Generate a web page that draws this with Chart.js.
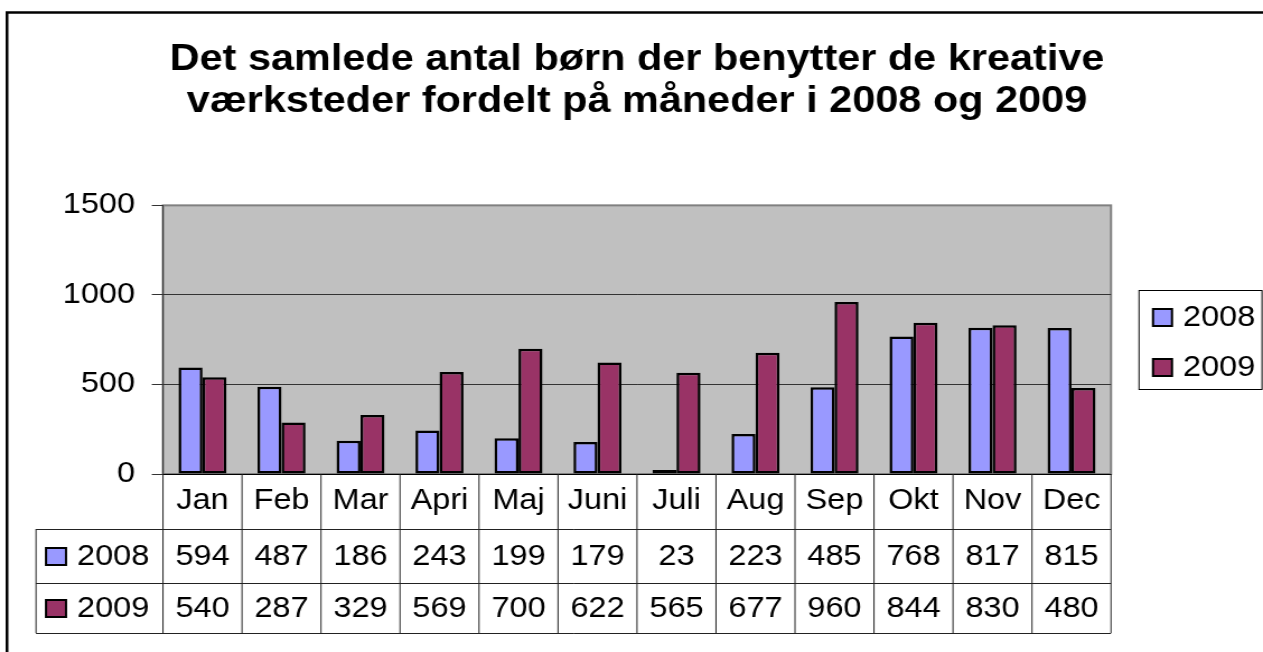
<!DOCTYPE html>
<html>
<head>
<meta charset="utf-8">
<script src="https://cdn.jsdelivr.net/npm/chart.js@4.4.1/dist/chart.umd.min.js"></script>
<style>
  html, body { margin: 0; padding: 0; background: #fff; overflow: hidden; }
</style>
</head>
<body>
<canvas id="chart" width="1128" height="652" style="display:block;width:1263px;height:652px"></canvas>
<script>
// Data
const months = ['Jan', 'Feb', 'Mar', 'Apri', 'Maj', 'Juni', 'Juli', 'Aug', 'Sep', 'Okt', 'Nov', 'Dec'];
const seriesNames = ['2008', '2009'];
const values2008 = [594, 487, 186, 243, 199, 179, 23, 223, 485, 768, 817, 815];
const values2009 = [540, 287, 329, 569, 700, 622, 565, 677, 960, 844, 830, 480];
const yTickValues = [0, 500, 1000, 1500];
const titleLines = [
  'Det samlede antal børn der benytter de kreative',
  'værksteder fordelt på måneder i 2008 og 2009'
];

// the original is a horizontally stretched Excel chart, so draw narrower and let CSS stretch it
const STRETCH = 1263 / 1128;
const sx = v => v / STRETCH;

const FONT = '"Liberation Sans", Arial, sans-serif';
const seriesColors = ['#9999FF', '#993366'];

function swatch(ctx, x, y, w, h, color) {
  ctx.fillStyle = color;
  ctx.fillRect(x, y, w, h);
  ctx.strokeStyle = '#000';
  ctx.lineWidth = 2;
  ctx.strokeRect(x, y, w, h);
}

// grey plot area, data table under the axis, boxed legend and the outer frame
const excelFrame = {
  id: 'excelFrame',
  beforeDraw(chart) {
    const { ctx, chartArea: a } = chart;
    ctx.save();
    ctx.fillStyle = '#fff';
    ctx.fillRect(0, 0, chart.width, chart.height);
    ctx.fillStyle = '#C0C0C0';
    ctx.fillRect(a.left, a.top, a.right - a.left, a.bottom - a.top);
    ctx.strokeStyle = '#808080';
    ctx.lineWidth = 2;
    ctx.strokeRect(a.left, a.top, a.right - a.left, a.bottom - a.top);
    ctx.restore();
  },
  afterDraw(chart) {
    const { ctx, chartArea: a } = chart;
    const x = chart.scales.x;
    const half = (x.getPixelForValue(1) - x.getPixelForValue(0)) / 2;
    const rows = [a.bottom, 529, 583, 633];
    const tableLeft = sx(36);

    ctx.save();
    ctx.strokeStyle = '#222';
    ctx.lineWidth = 1;
    ctx.beginPath();
    for (let r = 1; r < rows.length; r++) {
      ctx.moveTo(tableLeft, rows[r] + 0.5);
      ctx.lineTo(a.right, rows[r] + 0.5);
    }
    ctx.moveTo(tableLeft, rows[1]);
    ctx.lineTo(tableLeft, rows[3]);
    months.forEach((m, i) => {
      const bx = x.getPixelForValue(i) - half;
      ctx.moveTo(bx, a.bottom);
      ctx.lineTo(bx, rows[3]);
    });
    ctx.moveTo(a.right, a.bottom);
    ctx.lineTo(a.right, rows[3]);
    ctx.stroke();

    ctx.font = `29px ${FONT}`;
    ctx.textBaseline = 'middle';
    chart.data.datasets.forEach((ds, d) => {
      const cy = (rows[d + 1] + rows[d + 2]) / 2 + 1;
      ctx.fillStyle = '#000';
      ctx.textAlign = 'center';
      ds.data.forEach((v, i) => ctx.fillText(String(v), x.getPixelForValue(i), cy));
      swatch(ctx, sx(46), cy - 9, sx(20), 17, ds.backgroundColor);
      ctx.fillStyle = '#000';
      ctx.textAlign = 'left';
      ctx.fillText(ds.label, sx(77), cy);
    });

    // legend box
    ctx.strokeStyle = '#000';
    ctx.lineWidth = 1;
    ctx.strokeRect(sx(1139), 290.5, sx(1262) - sx(1139), 99);
    chart.data.datasets.forEach((ds, d) => {
      const cy = 318 + d * 50;
      swatch(ctx, sx(1153), cy - 9, sx(19), 17, ds.backgroundColor);
      ctx.fillStyle = '#000';
      ctx.textAlign = 'left';
      ctx.fillText(ds.label, sx(1183), cy);
    });

    // outer frame, runs off the right and bottom edges
    ctx.strokeStyle = '#000';
    ctx.lineWidth = 2.5;
    ctx.beginPath();
    ctx.moveTo(sx(7), chart.height + 10);
    ctx.lineTo(sx(7), 12.5);
    ctx.lineTo(chart.width + 10, 12.5);
    ctx.stroke();
    ctx.restore();
  }
};

new Chart(document.getElementById('chart'), {
  type: 'bar',
  data: {
    labels: months,
    datasets: [
      { label: seriesNames[0], data: values2008, backgroundColor: seriesColors[0] },
      { label: seriesNames[1], data: values2009, backgroundColor: seriesColors[1] }
    ]
  },
  options: {
    responsive: false,
    animation: false,
    devicePixelRatio: 1,
    layout: { padding: { left: 0, right: 1128 - sx(1111), top: 0, bottom: 0 } },
    datasets: {
      bar: {
        borderColor: '#000',
        borderWidth: 2.5,
        borderSkipped: false,
        categoryPercentage: 48 / 79,
        barPercentage: 1
      }
    },
    plugins: {
      legend: { display: false },
      tooltip: { enabled: false },
      title: {
        display: true,
        text: titleLines,
        fullSize: false,
        color: '#000',
        font: { family: FONT, size: 37, weight: 'bold', lineHeight: 1.14 },
        padding: { top: 39, bottom: 82 }
      }
    },
    scales: {
      x: {
        grid: { display: false },
        border: { display: true, color: '#000', width: 1 },
        ticks: {
          color: '#000',
          font: { family: FONT, size: 29 },
          padding: 2,
          maxRotation: 0,
          autoSkip: false
        },
        afterFit: s => { s.height = 178; }
      },
      y: {
        min: 0,
        max: 1500,
        afterBuildTicks: s => { s.ticks = yTickValues.map(v => ({ value: v })); },
        grid: {
          color: c => (c.tick && c.tick.value === 1500 ? '#808080' : '#333'),
          tickLength: 10,
          tickColor: '#333'
        },
        border: { display: true, color: '#333', width: 1 },
        ticks: {
          color: '#000',
          font: { family: FONT, size: 29 },
          padding: 15,
          callback: v => String(v)
        },
        afterFit: s => { s.width = sx(163); }
      }
    }
  },
  plugins: [excelFrame]
});
</script>
</body>
</html>
